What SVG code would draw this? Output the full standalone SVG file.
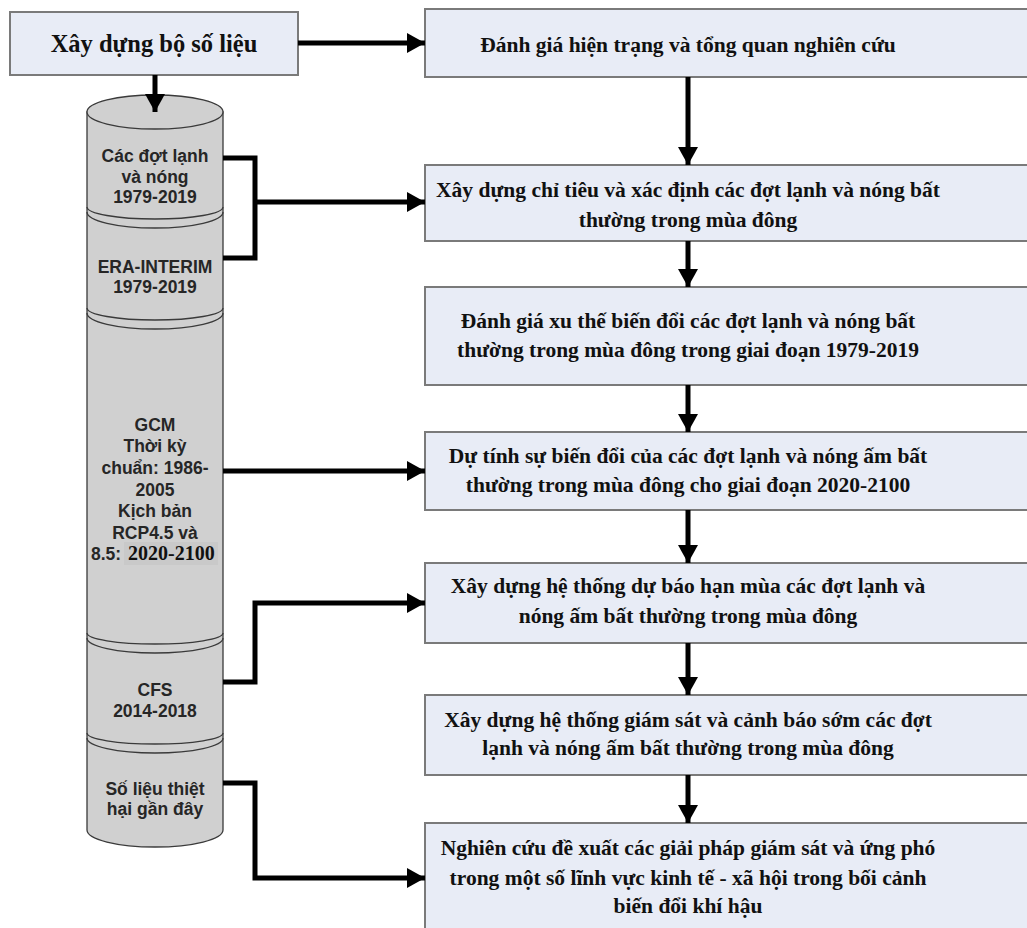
<svg xmlns="http://www.w3.org/2000/svg" width="1027" height="928" viewBox="0 0 1027 928">
  <defs>
    <marker id="arrow" markerUnits="userSpaceOnUse" markerWidth="19" markerHeight="20" refX="18" refY="10" orient="auto">
      <path d="M0,0 L18,10 L0,20 Z" fill="#000"/>
    </marker>
    <style>
      .box { fill: #E8ECF6; stroke: #7a7a7a; stroke-width: 2; }
      .btxt { font-family: "Liberation Serif", "Times New Roman", serif; font-weight: bold; font-size: 21.5px; fill: #111; text-anchor: middle; }
      .cyl { fill: #D0D0D0; stroke: #3a3a3a; stroke-width: 1.3; }
      .seam { fill: none; stroke: #3a3a3a; stroke-width: 1.3; }
      .ctxt { font-family: "Liberation Sans", Arial, sans-serif; font-weight: bold; font-size: 17.5px; fill: #262626; text-anchor: middle; }
      .link { fill: none; stroke: #000; stroke-width: 5; stroke-linejoin: miter; }
      .arr { marker-end: url(#arrow); }
    </style>
  </defs>
  <rect width="1027" height="928" fill="#fff"/>

  <!-- data source -->
  <g id="node-data">
    <rect class="box" x="10" y="12" width="288" height="63"/>
    <text class="btxt" x="154" y="52" style="font-size:24.5px">Xây dựng bộ số liệu</text>
  </g>

  <!-- stacked data cylinder -->
  <g id="node-cylinder">
    <path class="cyl" d="M87,112 V830 A68,17 0 0 0 223,830 V112 Z"/>
    <ellipse class="cyl" cx="155" cy="112" rx="68" ry="17"/>
    <path class="seam" d="M87,207 A68,12 0 0 0 223,207 M87,212 A68,16 0 0 0 223,212"/>
    <path class="seam" d="M87,308 A68,12 0 0 0 223,308 M87,313 A68,16 0 0 0 223,313"/>
    <path class="seam" d="M87,633 A68,11 0 0 0 223,633 M87,638 A68,15 0 0 0 223,638"/>
    <path class="seam" d="M87,733 A68,11 0 0 0 223,733 M87,738 A68,15 0 0 0 223,738"/>
  </g>
  <g id="node-cold-hot">
    <text class="ctxt" x="155" y="162">Các đợt lạnh</text>
    <text class="ctxt" x="155" y="183">và nóng</text>
    <text class="ctxt" x="155" y="203">1979-2019</text>
  </g>
  <g id="node-era">
    <text class="ctxt" x="155" y="273">ERA-INTERIM</text>
    <text class="ctxt" x="155" y="293">1979-2019</text>
  </g>
  <g id="node-gcm">
    <text class="ctxt" x="155" y="431">GCM</text>
    <text class="ctxt" x="155" y="452">Thời kỳ</text>
    <text class="ctxt" x="155" y="474">chuẩn: 1986-</text>
    <text class="ctxt" x="155" y="496">2005</text>
    <text class="ctxt" x="155" y="517">Kịch bản</text>
    <text class="ctxt" x="155" y="539">RCP4.5 và</text>
    <rect x="124" y="542" width="94" height="23" fill="#C9C9C9"/>
    <text class="ctxt" x="91" y="560" style="text-anchor:start">8.5:</text>
    <text x="128" y="560" style="font-family:'Liberation Serif','Times New Roman',serif;font-weight:bold;font-size:20px;fill:#111">2020-2100</text>
  </g>
  <g id="node-cfs">
    <text class="ctxt" x="155" y="696">CFS</text>
    <text class="ctxt" x="155" y="717">2014-2018</text>
  </g>
  <g id="node-damage">
    <text class="ctxt" x="155" y="795">Số liệu thiệt</text>
    <text class="ctxt" x="155" y="815">hại gần đây</text>
  </g>

  <!-- process steps -->
  <g id="node-step1">
    <rect class="box" x="425" y="9" width="620" height="68"/>
    <text class="btxt" x="688" y="52">Đánh giá hiện trạng và tổng quan nghiên cứu</text>
  </g>
  <g id="node-step2">
    <rect class="box" x="425" y="165" width="620" height="76"/>
    <text class="btxt" x="688" y="197">Xây dựng chỉ tiêu và xác định các đợt lạnh và nóng bất</text>
    <text class="btxt" x="688" y="227">thường trong mùa đông</text>
  </g>
  <g id="node-step3">
    <rect class="box" x="425" y="287" width="620" height="98"/>
    <text class="btxt" x="688" y="328">Đánh giá xu thế biến đổi các đợt lạnh và nóng bất</text>
    <text class="btxt" x="688" y="357">thường trong mùa đông trong giai đoạn 1979-2019</text>
  </g>
  <g id="node-step4">
    <rect class="box" x="425" y="432" width="620" height="78"/>
    <text class="btxt" x="688" y="463">Dự tính sự biến đổi của các đợt lạnh và nóng ấm bất</text>
    <text class="btxt" x="688" y="492">thường trong mùa đông cho giai đoạn 2020-2100</text>
  </g>
  <g id="node-step5">
    <rect class="box" x="425" y="563" width="620" height="80"/>
    <text class="btxt" x="688" y="593">Xây dựng hệ thống dự báo hạn mùa các đợt lạnh và</text>
    <text class="btxt" x="688" y="623">nóng ấm bất thường trong mùa đông</text>
  </g>
  <g id="node-step6">
    <rect class="box" x="425" y="695" width="620" height="80"/>
    <text class="btxt" x="688" y="727">Xây dựng hệ thống giám sát và cảnh báo sớm các đợt</text>
    <text class="btxt" x="688" y="755">lạnh và nóng ấm bất thường trong mùa đông</text>
  </g>
  <g id="node-step7">
    <rect class="box" x="425" y="823" width="620" height="120"/>
    <text class="btxt" x="688" y="855">Nghiên cứu đề xuất các giải pháp giám sát và ứng phó</text>
    <text class="btxt" x="688" y="885">trong một số lĩnh vực kinh tế - xã hội trong bối cảnh</text>
    <text class="btxt" x="688" y="913">biến đổi khí hậu</text>
  </g>

  <!-- connectors -->
  <g id="connectors">
    <path class="link arr" d="M298,43 H425"/>
    <path class="link arr" d="M155,75 V112"/>
    <path class="link" d="M223,158 H255 V258 H223"/>
    <path class="link arr" d="M255,202 H425"/>
    <path class="link arr" d="M223,471 H425"/>
    <path class="link arr" d="M223,682 H255 V603 H425"/>
    <path class="link arr" d="M223,783 H255 V878 H425"/>
    <path class="link arr" d="M688,77 V165"/>
    <path class="link arr" d="M688,241 V287"/>
    <path class="link arr" d="M688,385 V432"/>
    <path class="link arr" d="M688,510 V563"/>
    <path class="link arr" d="M688,643 V695"/>
    <path class="link arr" d="M688,775 V823"/>
  </g>
</svg>
